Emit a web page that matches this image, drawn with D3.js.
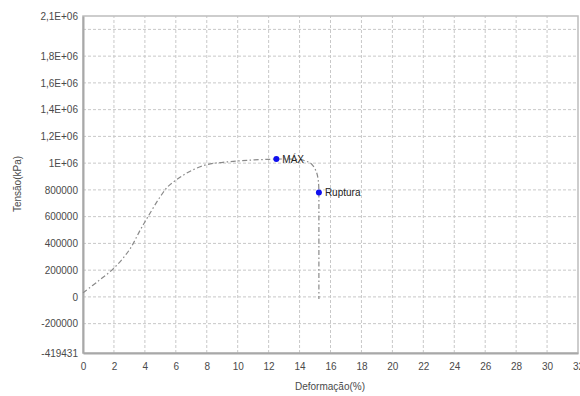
<!DOCTYPE html>
<html>
<head>
<meta charset="utf-8">
<script src="https://cdnjs.cloudflare.com/ajax/libs/d3/7.8.5/d3.min.js"></script>
<style>
  body { margin: 0; background: #fff; }
  svg text { font-family: "Liberation Sans", Arial, sans-serif; }
</style>
</head>
<body>
<div id="chart"></div>
<script>
// curve: deformation (%) and stress (kPa)
const deform = [0, 1, 2, 3, 3.7, 4.2, 5.0, 5.5, 6.05, 6.9, 8.0, 9.05, 10.6, 12.5, 13.5, 14.3, 14.8, 15.1, 15.22, 15.25, 15.25];
const tensao = [30000, 120000, 215000, 352000, 500000, 600000, 750000, 826000, 876000, 938000, 989000, 1006000, 1021000, 1030000, 1030000, 1020000, 990000, 930000, 860000, 781000, -15000];

const marks = [
  {name: 'MÁX', x: 12.5, y: 1030000},
  {name: 'Ruptura', x: 15.25, y: 781000}
];

const yDomain = [-419431, 2100000];
const xDomain = [0, 32];
const yTickValues = [2100000, 1800000, 1600000, 1400000, 1200000, 1000000, 800000, 600000, 400000, 200000, 0, -200000, -419431];
const yTickLabels = ['2,1E+06', '1,8E+06', '1,6E+06', '1,4E+06', '1,2E+06', '1E+06', '800000', '600000', '400000', '200000', '0', '-200000', '-419431'];
const yGrid = d3.range(-200000, 2000001, 200000);
const xTickValues = d3.range(0, 33, 2);
const xGrid = d3.range(2, 31, 2);

const width = 580;
const height = 396;
const margin = {top: 16, right: 2, bottom: 43, left: 83};

const svg = d3.select('#chart')
  .append('svg')
  .attr('width', width)
  .attr('height', height);

const x = d3.scaleLinear()
  .domain(xDomain)
  .range([margin.left, width - margin.right]);
const y = d3.scaleLinear()
  .domain(yDomain)
  .range([height - margin.bottom, margin.top]);

// grid
const grid = svg.append('g').attr('class', 'grid');
grid.selectAll('line.h')
  .data(yGrid)
  .enter()
  .append('line')
  .attr('class', 'h')
  .attr('x1', x(xDomain[0]))
  .attr('x2', x(xDomain[1]))
  .attr('y1', (d)=> y(d))
  .attr('y2', (d)=> y(d))
  .attr('stroke', '#c8c8c8')
  .attr('stroke-dasharray', '3,2');
grid.selectAll('line.v')
  .data(xGrid)
  .enter()
  .append('line')
  .attr('class', 'v')
  .attr('y1', y(yDomain[0]))
  .attr('y2', y(yDomain[1]))
  .attr('x1', (d)=> x(d))
  .attr('x2', (d)=> x(d))
  .attr('stroke', '#c8c8c8')
  .attr('stroke-dasharray', '3,2');

// frame
svg.append('rect')
  .attr('x', x(xDomain[0]))
  .attr('y', y(yDomain[1]))
  .attr('width', x(xDomain[1]) - x(xDomain[0]))
  .attr('height', y(yDomain[0]) - y(yDomain[1]))
  .attr('fill', 'none')
  .attr('stroke', '#bdbdbd')
  .attr('stroke-width', 1.5);

// axes
const yAxis = d3.axisLeft(y)
  .tickValues(yTickValues)
  .tickSize(0)
  .tickPadding(5)
  .tickFormat((d, i)=> yTickLabels[i]);
const xAxis = d3.axisBottom(x)
  .tickValues(xTickValues)
  .tickSize(0)
  .tickPadding(10)
  .tickFormat(d3.format('d'));

const gy = svg.append('g')
  .attr('transform', `translate(${margin.left},0)`)
  .call(yAxis);
const gx = svg.append('g')
  .attr('transform', `translate(0,${height - margin.bottom})`)
  .call(xAxis);

[gx, gy].forEach((g)=> {
  g.select('.domain').attr('stroke', '#a8a8a8').attr('stroke-width', 2);
  g.selectAll('text').attr('fill', '#4a4a4a').style('font-size', '10px');
});

// curve
const line = d3.line()
  .x((d)=> x(d[0]))
  .y((d)=> y(d[1]))
  .curve(d3.curveMonotoneX);
const pts = d3.zip(deform, tensao);
svg.append('path')
  .datum(pts.slice(0, pts.length - 1))
  .attr('d', line.curve(d3.curveCatmullRom.alpha(0.5)))
  .attr('fill', 'none')
  .attr('stroke', '#8a8a8a')
  .attr('stroke-width', 1.2)
  .attr('stroke-dasharray', '5,2.5,1.5,2.5');
svg.append('path')
  .datum(pts.slice(pts.length - 2))
  .attr('d', d3.line().x((d)=> x(d[0])).y((d)=> y(d[1])))
  .attr('fill', 'none')
  .attr('stroke', '#8a8a8a')
  .attr('stroke-width', 1.2)
  .attr('stroke-dasharray', '5,2.5,1.5,2.5');

// marked points
const mg = svg.append('g');
mg.selectAll('circle')
  .data(marks)
  .enter()
  .append('circle')
  .attr('cx', (d)=> x(d.x))
  .attr('cy', (d)=> y(d.y))
  .attr('r', 3)
  .attr('fill', '#1010ee');
mg.selectAll('text')
  .data(marks)
  .enter()
  .append('text')
  .attr('x', (d)=> x(d.x) + 6)
  .attr('y', (d)=> y(d.y) + 3.5)
  .attr('fill', '#222')
  .style('font-size', '10px')
  .text((d)=> d.name);

// axis titles
svg.append('text')
  .attr('x', 330)
  .attr('y', 390)
  .attr('text-anchor', 'middle')
  .attr('fill', '#4a4a4a')
  .style('font-size', '10px')
  .text('Deformação(%)');
svg.append('text')
  .attr('transform', 'translate(21,184) rotate(-90)')
  .attr('text-anchor', 'middle')
  .attr('fill', '#4a4a4a')
  .style('font-size', '10px')
  .text('Tensão(kPa)');
</script>
</body>
</html>
